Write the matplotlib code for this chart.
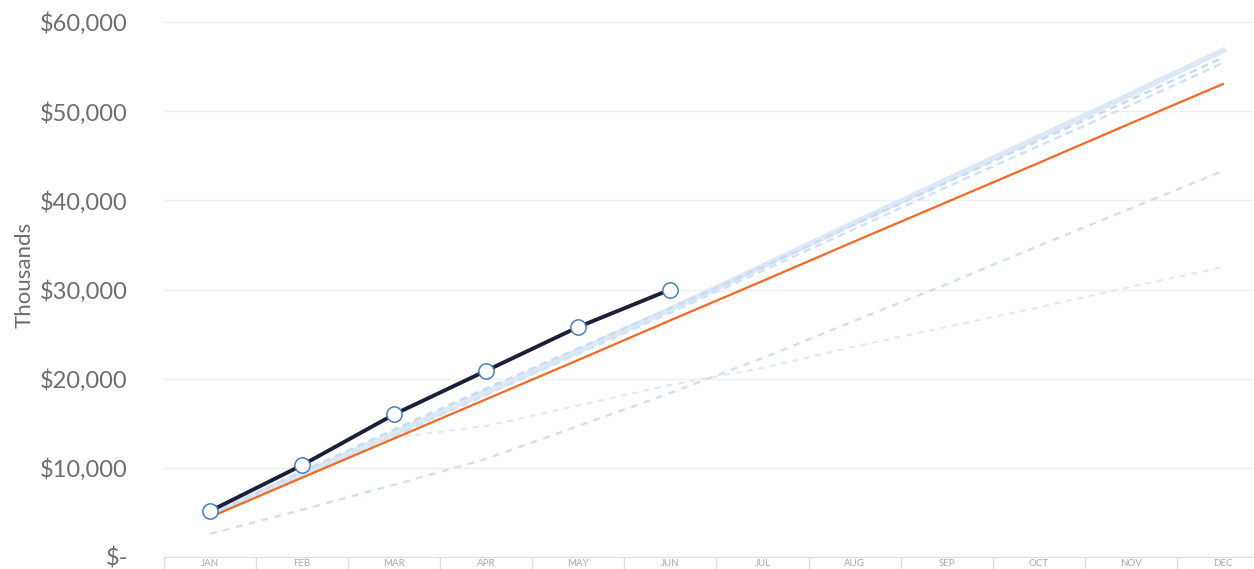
import numpy as np
import matplotlib
matplotlib.use("Agg")
import matplotlib.pyplot as plt
from matplotlib.ticker import FuncFormatter, FixedLocator

plt.rcParams['font.family'] = ['Lato', 'DejaVu Sans']

months = ["JAN", "FEB", "MAR", "APR", "MAY", "JUN",
          "JUL", "AUG", "SEP", "OCT", "NOV", "DEC"]

# actual (only first half of the year)
actual   = [5150, 10300, 16000, 20900, 25800, 30000]
# target line
target   = [4480, 8900, 13300, 17700, 22100, 26550,
            30950, 35400, 39800, 44200, 48650, 53050]
# faded prior-year / projection lines
prior_a  = [4800, 9300, 13900, 18500, 23100, 27800,
            32600, 37500, 42300, 47100, 51900, 56800]
prior_b  = [4700, 9600, 14300, 18900, 23400, 27900,
            32500, 37300, 42000, 46700, 51300, 56000]
prior_c  = [4500, 9000, 13600, 18200, 22800, 27400,
            32100, 36800, 41500, 46100, 50700, 55400]
prior_d  = [2600, 5300, 8100, 11000, 14700, 18400,
            22300, 26500, 30600, 34900, 39100, 43300]
prior_e  = [4400, 8900, 13400, 14700, 17000, 19300,
            21200, 23600, 25800, 28000, 30300, 32500]

x = np.arange(len(months))

fig = plt.figure(figsize=(12.54, 5.69), dpi=100)
ax  = fig.add_axes([164/1254, 12/569, 1105/1254, 535/569])

# faded lines first
ax.plot(x, prior_a, '-',  color='#dce8f6', lw=4.0, zorder=2)
ax.plot(x, prior_b, '--', color='#c9dcf1', lw=1.8, dashes=(3, 2), zorder=2)
ax.plot(x, prior_c, '--', color='#d3e2f3', lw=1.8, dashes=(3, 2), zorder=2)
ax.plot(x, prior_d, '--', color='#cfe0f3', lw=1.6, dashes=(3, 3), zorder=2)
ax.plot(x, prior_e, '--', color='#e2e8ef', lw=1.4, dashes=(3, 3), zorder=2)

ax.plot(x, target, '-', color='#f26a21', lw=1.6, zorder=3)
ax.plot(x[:len(actual)], actual, '-o', color='#1c1f3a', lw=2.8, ms=11,
        mfc='white', mec='#4a7fba', mew=1.1, zorder=4)

ax.set_xlim(-0.5, 11.5)
ax.set_ylim(0, 60000)
ax.yaxis.set_major_locator(FixedLocator(np.arange(0, 60001, 10000)))
ax.yaxis.set_major_formatter(FuncFormatter(lambda v, p: "$-" if v == 0 else f"${v:,.0f}"))
ax.tick_params(axis='y', length=0, pad=26, labelsize=17, labelcolor='#6d6d6d')
ax.grid(axis='y', color='#efefef', lw=1.0)
ax.set_axisbelow(True)

ax.set_xticks(x)
ax.set_xticklabels(months)
ax.set_xticks(np.arange(-0.5, 12, 1), minor=True)
ax.tick_params(axis='x', which='major', length=0, pad=1.5, labelsize=7, labelcolor='#aaaaaa')
ax.tick_params(axis='x', which='minor', length=14, width=1.0, color='#dddddd')

for s in ['top', 'right', 'left']:
    ax.spines[s].set_visible(False)
ax.spines['bottom'].set_color('#dddddd')

ax.set_ylabel("Thousands", fontsize=16, color='#6d6d6d')
ax.yaxis.set_label_coords(-0.117, 0.527)

fig.savefig("out.png", dpi=100, facecolor='white')
